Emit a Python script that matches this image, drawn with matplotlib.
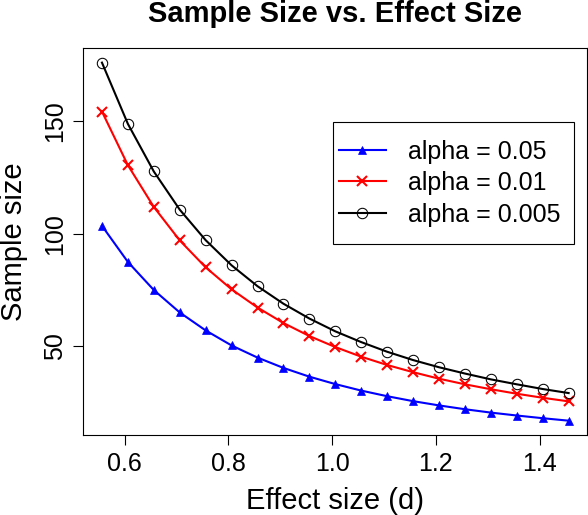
import matplotlib
matplotlib.use("Agg")
import matplotlib.pyplot as plt
from matplotlib.patches import Rectangle

plt.rcParams["font.family"] = ["Liberation Sans", "DejaVu Sans"]

# ---- Data ----
effect_size = [0.556, 0.606, 0.656, 0.706, 0.756, 0.806, 0.856, 0.906, 0.956, 1.006,
               1.056, 1.106, 1.156, 1.206, 1.256, 1.306, 1.356, 1.406, 1.456]
n_alpha_05 = [103.5, 87.4, 74.9, 64.9, 56.9, 50.2, 44.8, 40.2, 36.3, 33.0,
              30.1, 27.6, 25.4, 23.5, 21.8, 20.3, 19.0, 17.8, 16.7]
n_alpha_01 = [154.4, 130.5, 111.9, 97.0, 85.0, 75.2, 67.1, 60.2, 54.4, 49.5,
              45.2, 41.5, 38.3, 35.4, 32.9, 30.7, 28.7, 26.9, 25.3]
n_alpha_005 = [176.2, 148.9, 127.7, 110.7, 97.1, 85.9, 76.6, 68.8, 62.2, 56.5,
               51.7, 47.4, 43.7, 40.5, 37.7, 35.1, 32.9, 30.8, 29.0]
labels = ["alpha = 0.05", "alpha = 0.01", "alpha = 0.005"]
x_ticks = [0.6, 0.8, 1.0, 1.2, 1.4]
y_ticks = [50, 100, 150]

W, H = 588, 515
fig = plt.figure(figsize=(W / 100, H / 100), dpi=100)
# plot region in pixels: left 83, right 587, top 48, bottom 435
ax = fig.add_axes([83.3 / W, (H - 435) / H, (587.3 - 83.3) / W, (435 - 48.3) / H])

ax.plot(effect_size, n_alpha_05, color="#0000FF", lw=1.5, marker="^", ms=6,
        mew=0.5, label=labels[0])
ax.plot(effect_size, n_alpha_01, color="#FF0000", lw=1.5, marker="x", ms=7,
        mew=1.5, label=labels[1])
ax.plot(effect_size, n_alpha_005, color="black", lw=1.5, marker="o", ms=7.5,
        mfc="none", mew=0.75, label=labels[2])

ax.margins(0.04)
ax.set_xticks(x_ticks)
ax.set_xticklabels([f"{t:.1f}" for t in x_ticks])
ax.set_yticks(y_ticks)
ax.tick_params(direction="out", length=7, width=0.8, labelsize=18, pad=5)
for lab in ax.get_yticklabels():
    lab.set_rotation(90)
    lab.set_va("center")
for sp in ax.spines.values():
    sp.set_linewidth(0.8)

# titles / labels placed like R's base graphics
fig.text(335 / W, 1 - 21.7 / H, "Sample Size vs. Effect Size", ha="center",
         va="baseline", fontsize=21, fontweight="bold")
fig.text(335 / W, 1 - 509 / H, "Effect size (d)", ha="center", va="baseline",
         fontsize=21)
fig.text(21.7 / W, 1 - 241.7 / H, "Sample size", ha="center", va="baseline",
         rotation=90, rotation_mode="anchor", fontsize=21)

# legend with an R-style box
leg = ax.legend(loc="upper left", bbox_to_anchor=(339 / W, 1 - 139.5 / H),
                bbox_transform=fig.transFigure, frameon=False, fontsize=18,
                handlelength=1.87, handletextpad=0.89, labelspacing=0.3,
                borderpad=0, borderaxespad=0, numpoints=1)
fig.patches.append(Rectangle((332.7 / W, 1 - 244.3 / H), (574 - 332.7) / W,
                             (244.3 - 121.7) / H, transform=fig.transFigure,
                             fill=False, edgecolor="black", lw=0.8))

fig.savefig("out.png", dpi=100, facecolor="white")
